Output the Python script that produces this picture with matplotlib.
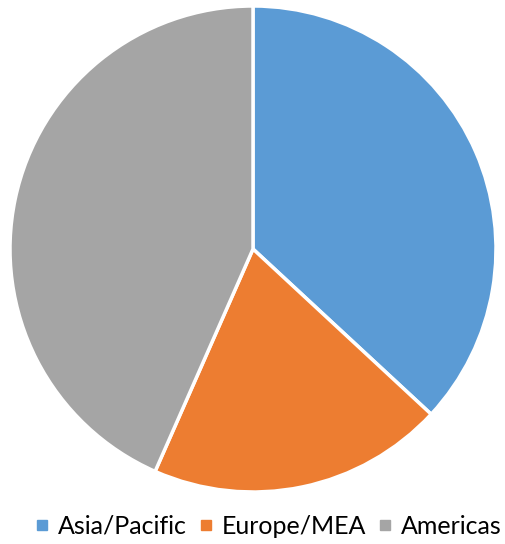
import matplotlib.pyplot as plt
from matplotlib.lines import Line2D

regions = ["Asia/Pacific", "Europe/MEA", "Americas"]
shares = [36.9, 19.7, 43.4]
colors = ["#5B9BD5", "#ED7D31", "#A5A5A5"]

fig = plt.figure(figsize=(5.05, 5.44), dpi=100)
W, H = 505, 544
ax = fig.add_axes([10 / W, (H - 492) / H, 486 / W, 486 / H])
ax.pie(shares, colors=colors, startangle=90, counterclock=False,
       wedgeprops={"edgecolor": "white", "linewidth": 2.5})
ax.set_xlim(-1, 1)
ax.set_ylim(-1, 1)
ax.axis("off")

handles = [Line2D([], [], marker="s", linestyle="none", markersize=7,
                  markerfacecolor=c, markeredgecolor=c) for c in colors]
fig.legend(handles, regions, loc="center", bbox_to_anchor=(268 / W, 18 / H),
           ncol=3, frameon=False, prop={"family": "Lato", "size": 18},
           handletextpad=0.35, columnspacing=0.45, handlelength=0.6)

fig.savefig("out.png", dpi=100)
